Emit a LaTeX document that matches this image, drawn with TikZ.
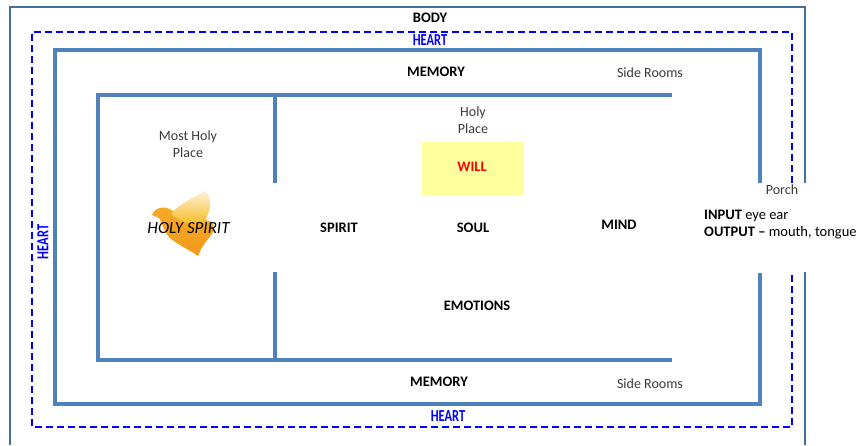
\documentclass[tikz,border=0pt]{standalone}
\usepackage{fontspec}
\usepackage{graphicx}
\setmainfont{Carlito}
\definecolor{wallblue}{HTML}{4F81BD}
\definecolor{bodyblue}{HTML}{41719C}
\definecolor{heartblue}{HTML}{0000FF}
\definecolor{willyellow}{HTML}{FFFF9F}
\definecolor{greytext}{HTML}{3A3A3A}
\definecolor{doveorange}{HTML}{F7A928}
\definecolor{dovedeep}{HTML}{F29A1C}
\definecolor{dovepale}{HTML}{FDF2D8}
\tikzset{
  wall/.style={draw=wallblue, line width=4.5pt},
  bodyline/.style={draw=bodyblue, line width=2.2pt},
  heartline/.style={draw=heartblue, line width=1.4pt, dash pattern=on 7pt off 4pt},
  lbl/.style={font=\fontsize{14.5}{17}\selectfont\bfseries, text=black, inner sep=0pt},
  sml/.style={font=\fontsize{14}{16.5}\selectfont, text=greytext, inner sep=0pt, align=center},
  heartlbl/.style={font=\fontsize{16}{16}\selectfont\bfseries, text=heartblue, inner sep=0pt},
}
\begin{document}
\begin{tikzpicture}[x=1pt,y=-1pt]
\useasboundingbox (0,0) rectangle (860,445);
\fill[white] (0,0) rectangle (860,445);
% body
\draw[bodyline] (805,183) -- (805,7) -- (10,7) -- (10,445);
\draw[bodyline] (805,272) -- (805,445);
% heart
\draw[heartline] (792,183) -- (792,32) -- (32,32) -- (32,427) -- (792,427) -- (792,273);
% memory walls
\draw[wall] (760,183) -- (760,50) -- (55,50) -- (55,404) -- (760,404) -- (760,273);
% inner walls
\draw[wall] (672,95) -- (98,95) -- (98,360) -- (672,360);
\draw[wall] (275,95) -- (275,183);
\draw[wall] (275,272) -- (275,360);
% will box
\fill[willyellow] (422,142) rectangle (524,195);
% dove body
\shade[top color=doveorange, bottom color=dovedeep]
  (152,215) .. controls (154,208) and (164,205) .. (171,210)
  .. controls (180,215) and (196,218) .. (209,221)
  .. controls (216,224) and (215,232) .. (208,239)
  -- (205,243)
  .. controls (202,247) .. (198,256)
  .. controls (190,250) and (178,245) .. (170,238)
  .. controls (163,231) and (162,222) .. (159,218)
  -- cycle;
% dove wing
\shade[top color=dovepale, bottom color=doveorange!80!yellow]
  (171,214) .. controls (178,205) and (192,198) .. (205,191)
  .. controls (213,198) and (211,212) .. (203,224)
  .. controls (192,225) and (180,222) .. (171,214) -- cycle;
% labels
\node[lbl] (body) at (430,18) {BODY};
\node[heartlbl] (hearttop) at (430,40) {\scalebox{0.78}[1.05]{HEART}};
\node[heartlbl] (heartbot) at (448,416) {\scalebox{0.78}[1.05]{HEART}};
\node[heartlbl, rotate=90] (heartleft) at (43,242) {\scalebox{0.78}[1.05]{HEART}};
\node[lbl] (memtop) at (436,72) {MEMORY};
\node[sml] (sidetop) at (650,73) {Side Rooms};
\node[sml] (holyplace) at (473,120) {Holy\\Place};
\node[lbl, text=red] (will) at (472,167) {WILL};
\node[sml] (mostholy) at (188,144) {Most Holy\\Place};
\node[font=\fontsize{17}{19}\selectfont\itshape, text=black, inner sep=0pt] (holyspirit) at (188.5,228) {HOLY SPIRIT};
\node[lbl] (spirit) at (339,228) {SPIRIT};
\node[lbl] (soul) at (473,228) {SOUL};
\node[lbl] (mind) at (619,225) {MIND};
\node[sml] (porch) at (782,190) {Porch};
\node[lbl, anchor=west] (input) at (704,216) {INPUT \mdseries eye ear};
\node[lbl, anchor=west] (output) at (704,233) {OUTPUT -- \mdseries mouth, tongue};
\node[lbl] (emotions) at (477,306) {EMOTIONS};
\node[lbl] (membot) at (439,382) {MEMORY};
\node[sml] (sidebot) at (650,384) {Side Rooms};
\end{tikzpicture}
\end{document}
